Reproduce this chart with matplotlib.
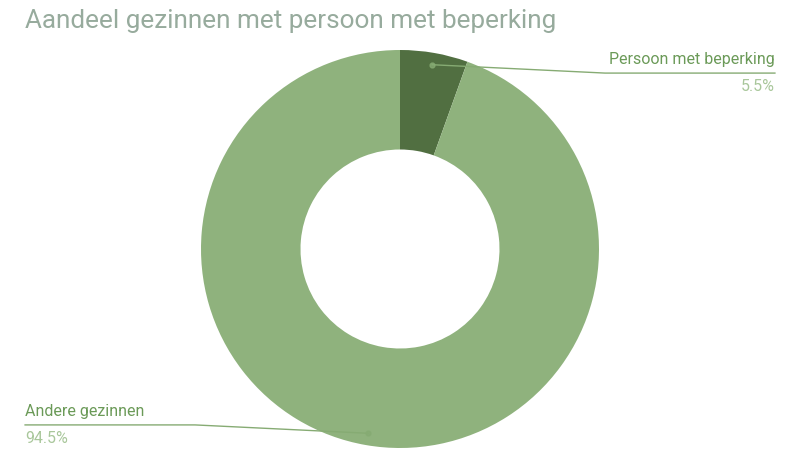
import matplotlib
matplotlib.use("Agg")
import matplotlib.pyplot as plt
import numpy as np

labels = ["Persoon met beperking", "Andere gezinnen"]
values = [5.5, 94.5]
pct_labels = ["5.5%", "94.5%"]
title = "Aandeel gezinnen met persoon met beperking"

colors = ["#516f41", "#8fb27d"]
label_color = "#6b9a58"
pct_color = "#a9c79b"
line_color = "#86ab73"
title_color = "#97ab9d"

plt.rcParams['font.family'] = ['Roboto', 'DejaVu Sans']

fig = plt.figure(figsize=(8, 4.5), dpi=100)
R = 199
cx, cy = 400, 249
ax = fig.add_axes([(cx - R) / 800, (450 - cy - R) / 450, 2 * R / 800, 2 * R / 450])
wedges, _ = ax.pie(values, colors=colors, startangle=90, counterclock=False,
                   radius=1.0, wedgeprops=dict(width=0.5, linewidth=0))
ax.set_xlim(-1, 1)
ax.set_ylim(-1, 1)
ax.set_aspect('equal')
ax.axis('off')

fig.text(25 / 800, 1 - 28 / 450, title, color=title_color, fontsize=18.8,
         ha='left', va='baseline')

# leader lines
cum = np.cumsum([0] + values)
for i, (lab, pct) in enumerate(zip(labels, pct_labels)):
    mid = 90 - (cum[i] + values[i] / 2) / 100 * 360
    a = np.deg2rad(mid)
    dx, dy = 0.94 * np.cos(a), 0.94 * np.sin(a)
    side = 1 if dx > 0 else -1
    by = 0.884 * np.sign(dy)
    bx = 1.03 * side
    ex = 1.884 * side
    ax.plot([dx, bx, ex], [dy, by, by], color=line_color, lw=1.0, clip_on=False)
    ax.plot([dx], [dy], 'o', color=line_color, ms=3.5, clip_on=False, alpha=0.8)
    ha = 'right' if side > 0 else 'left'
    ax.text(ex, by + 0.03, lab, color=label_color, fontsize=11.5, ha=ha, va='bottom')
    ax.text(ex, by - 0.03, pct, color=pct_color, fontsize=11.5, ha=ha, va='top')

fig.savefig("out.png", dpi=100)
